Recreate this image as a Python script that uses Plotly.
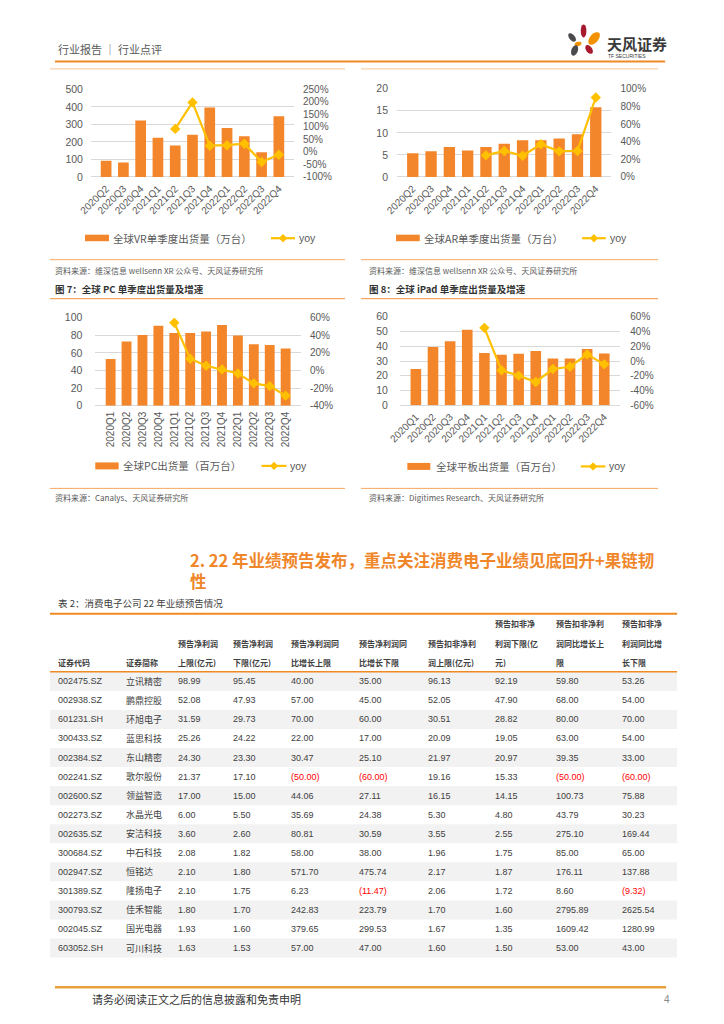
import math
import plotly.graph_objects as go

W, H = 724, 1024
# page coordinates -> paper fractions
def tx_(x): return 58 + (x - 72) / 0.9818
def ty_(y): return 49 + (y - 54) / 0.9895
def px(x): return tx_(x) / W
def py(y): return 1 - ty_(y) / H

# ---------------- data ----------------
quarters_vr = ['2020Q2', '2020Q3', '2020Q4', '2021Q1', '2021Q2', '2021Q3',
               '2021Q4', '2022Q1', '2022Q2', '2022Q3', '2022Q4']
vr_shipments = [93, 82, 323, 224, 179, 241, 397, 279, 232, 141, 346]
vr_yoy = [None, None, None, None, 92, 198, 25, 27, 33, -40, -11]

quarters_ar = quarters_vr
ar_shipments = [5.4, 5.8, 6.8, 6.0, 6.8, 7.55, 8.3, 8.3, 8.7, 9.7, 15.8]
ar_yoy = [None, None, None, None, 24.5, 29.5, 24, 37, 29, 29.5, 90]

quarters_pc = ['2020Q1', '2020Q2', '2020Q3', '2020Q4', '2021Q1', '2021Q2',
               '2021Q3', '2021Q4', '2022Q1', '2022Q2', '2022Q3', '2022Q4']
pc_shipments = [53, 73, 80.3, 90.9, 82.6, 82.6, 84.5, 91.7, 80, 70, 69, 65.2]
pc_yoy = [None, None, None, None, 54.3, 13.4, 5.5, 1.3, -3.3, -14.6, -17.7, -28.6]

quarters_ipad = quarters_pc
ipad_shipments = [24.6, 39.5, 43.5, 51.2, 35.4, 34.3, 35.0, 36.8, 31.8, 31.8, 38.1, 35.2]
ipad_yoy = [None, None, None, None, 45, -12.6, -19.8, -28.4, -10.8, -7.7, 9, -4.5]

table_title = '表 2：消费电子公司 22 年业绩预告情况'
header_lines = [
    ['', '', '证券代码'],
    ['', '', '证券简称'],
    ['', '预告净利润', '上限(亿元)'],
    ['', '预告净利润', '下限(亿元)'],
    ['', '预告净利润同', '比增长上限'],
    ['', '预告净利润同', '比增长下限'],
    ['', '预告扣非净利', '润上限(亿元)'],
    ['预告扣非净', '利润下限(亿', '元)'],
    ['预告扣非净利', '润同比增长上', '限'],
    ['预告扣非净', '利润同比增', '长下限'],
]
codes = ['002475.SZ', '002938.SZ', '601231.SH', '300433.SZ', '002384.SZ', '002241.SZ',
         '002600.SZ', '002273.SZ', '002635.SZ', '300684.SZ', '002947.SZ', '301389.SZ',
         '300793.SZ', '002045.SZ', '603052.SH']
names = ['立讯精密', '鹏鼎控股', '环旭电子', '蓝思科技', '东山精密', '歌尔股份', '领益智造',
         '水晶光电', '安洁科技', '中石科技', '恒铭达', '隆扬电子', '佳禾智能', '国光电器', '可川科技']
np_upper = [98.99, 52.08, 31.59, 25.26, 24.30, 21.37, 17.00, 6.00, 3.60, 2.08, 2.10, 2.10, 1.80, 1.93, 1.63]
np_lower = [95.45, 47.93, 29.73, 24.22, 23.30, 17.10, 15.00, 5.50, 2.60, 1.82, 1.80, 1.75, 1.70, 1.60, 1.53]
np_yoy_upper = [40.00, 57.00, 70.00, 22.00, 30.47, -50.00, 44.06, 35.69, 80.81, 58.00, 571.70, 6.23, 242.83, 379.65, 57.00]
np_yoy_lower = [35.00, 45.00, 60.00, 17.00, 25.10, -60.00, 27.11, 24.38, 30.59, 38.00, 475.74, -11.47, 223.79, 299.53, 47.00]
dnp_upper = [96.13, 52.05, 30.51, 20.09, 21.97, 19.16, 16.15, 5.30, 3.55, 1.96, 2.17, 2.06, 1.70, 1.67, 1.60]
dnp_lower = [92.19, 47.90, 28.82, 19.05, 20.97, 15.33, 14.15, 4.80, 2.55, 1.75, 1.87, 1.72, 1.60, 1.35, 1.50]
dnp_yoy_upper = [59.80, 68.00, 80.00, 63.00, 39.35, -50.00, 100.73, 43.79, 275.10, 85.00, 176.11, 8.60, 2795.89, 1609.42, 53.00]
dnp_yoy_lower = [53.26, 54.00, 70.00, 54.00, 33.00, -60.00, 75.88, 30.23, 169.44, 65.00, 137.88, -9.32, 2625.54, 1280.99, 43.00]

# ---------------- styles ----------------
BAR = '#F3862A'
LINE = '#FFC000'
GRID = '#D9D9D9'
TICK = '#595959'
ORANGE = '#F08A24'
LIGHT = '#F6A862'
FONT = 'Liberation Sans, Noto Sans CJK SC, sans-serif'
CJK = 'Noto Sans CJK SC, Liberation Sans, sans-serif'

fig = go.Figure()
layout = dict(width=W, height=H, margin=dict(l=0, r=0, t=0, b=0),
              paper_bgcolor='white', plot_bgcolor='rgba(0,0,0,0)',
              showlegend=False, bargap=0.38, font=dict(family=FONT, color=TICK))
shapes, annotations = [], []

charts = [
    dict(cats=quarters_vr, bars=vr_shipments, yoy=vr_yoy, name='全球VR单季度出货量（万台）',
         xd=(93, 296), yd=(89, 176.7), lr=(0, 500), ld=100, rr=(-100, 250), rd=50,
         angle=-45, lso=7, rso=8,
         leg=dict(sw=(87, 111), sy=(234.5, 241), tx=113.5, ty=238, ln=(273, 297), lt=298.5)),
    dict(cats=quarters_ar, bars=ar_shipments, yoy=ar_yoy, name='全球AR单季度出货量（万台）',
         xd=(399, 613.4), yd=(88.3, 176.7), lr=(0, 20), ld=5, rr=(0, 100), rd=20,
         angle=-45, lso=8, rso=8,
         leg=dict(sw=(398, 421.7), sy=(234.5, 241), tx=424, ty=238, ln=(584, 607.7), lt=609.5)),
    dict(cats=quarters_pc, bars=pc_shipments, yoy=pc_yoy, name='全球PC出货量（百万台）',
         xd=(97.4, 302.9), yd=(317.7, 405.7), lr=(0, 100), ld=20, rr=(-40, 60), rd=20,
         angle=-90, lso=12, rso=8,
         leg=dict(sw=(97.3, 120.7), sy=(462.5, 469.5), tx=123.5, ty=466, ln=(263.5, 288.5), lt=290)),
    dict(cats=quarters_ipad, bars=ipad_shipments, yoy=ipad_yoy, name='全球平板出货量（百万台）',
         xd=(401.8, 622.2), yd=(316.7, 405.3), lr=(0, 60), ld=10, rr=(-60, 60), rd=20,
         angle=-45, lso=11, rso=9,
         leg=dict(sw=(409.3, 432.3), sy=(463, 470), tx=435.5, ty=466.5, ln=(582.7, 607.3), lt=608.5)),
]

for n, c in enumerate(charts, start=1):
    xa = 'x' if n == 1 else f'x{n}'
    ylk, yrk = 2 * n - 1, 2 * n
    yl = 'y' if ylk == 1 else f'y{ylk}'
    yr = f'y{yrk}'
    fig.add_trace(go.Bar(x=c['cats'], y=c['bars'], marker=dict(color=BAR, line=dict(width=0)),
                         name=c['name'], xaxis=xa, yaxis=yl))
    fig.add_trace(go.Scatter(x=c['cats'], y=c['yoy'], mode='lines+markers', name='yoy',
                             line=dict(color=LINE, width=2.2),
                             marker=dict(symbol='diamond', size=8, color=LINE),
                             connectgaps=False, xaxis=xa, yaxis=yr))
    xkey = 'xaxis' if n == 1 else f'xaxis{n}'
    ylkey = 'yaxis' if ylk == 1 else f'yaxis{ylk}'
    yrkey = f'yaxis{yrk}'
    layout[xkey] = dict(domain=[px(c['xd'][0]), px(c['xd'][1])], anchor=yl, type='category',
                        tickangle=c['angle'], tickfont=dict(size=10, color=TICK, family=FONT),
                        showgrid=False, showline=False, ticks='', ticklabelstandoff=3,
                        fixedrange=True)
    lvals = list(range(c['lr'][0], c['lr'][1] + 1, c['ld']))
    layout[ylkey] = dict(domain=[py(c['yd'][1]), py(c['yd'][0])], anchor=xa,
                         range=list(c['lr']), tickvals=lvals,
                         tickfont=dict(size=10.5, color=TICK, family=FONT),
                         showgrid=True, gridcolor=GRID, gridwidth=1,
                         zeroline=True, zerolinecolor=GRID, zerolinewidth=1,
                         showline=False, ticks='', ticklabelstandoff=c['lso'])
    rvals = list(range(c['rr'][0], c['rr'][1] + 1, c['rd']))
    layout[yrkey] = dict(overlaying=yl, side='right', anchor=xa, range=list(c['rr']),
                         tickvals=rvals, ticktext=[f'{v}%' for v in rvals],
                         tickfont=dict(size=10, color=TICK, family=FONT),
                         showgrid=False, zeroline=False, showline=False, ticks='',
                         ticklabelstandoff=c['rso'])
    # manual legend
    lg = c['leg']
    shapes.append(dict(type='rect', xref='paper', yref='paper',
                       x0=px(lg['sw'][0]), x1=px(lg['sw'][1]), y0=py(lg['sy'][1]), y1=py(lg['sy'][0]),
                       fillcolor=BAR, line=dict(width=0)))
    annotations.append(dict(x=px(lg['tx']), y=py(lg['ty']), xref='paper', yref='paper',
                            text=c['name'], showarrow=False, xanchor='left', yanchor='middle',
                            font=dict(size=10.5, color=TICK, family=CJK)))
    shapes.append(dict(type='line', xref='paper', yref='paper',
                       x0=px(lg['ln'][0]), x1=px(lg['ln'][1]), y0=py(lg['ty']), y1=py(lg['ty']),
                       line=dict(color=LINE, width=2.2)))
    cx = (lg['ln'][0] + lg['ln'][1]) / 2
    d = 4.2
    shapes.append(dict(type='path', xref='paper', yref='paper',
                       path=f"M{px(cx)},{py(lg['ty'] - d)} L{px(cx + d)},{py(lg['ty'])} "
                            f"L{px(cx)},{py(lg['ty'] + d)} L{px(cx - d)},{py(lg['ty'])} Z",
                       fillcolor=LINE, line=dict(width=0)))
    annotations.append(dict(x=px(lg['lt']), y=py(lg['ty']), xref='paper', yref='paper',
                            text='yoy', showarrow=False, xanchor='left', yanchor='middle',
                            font=dict(size=10.5, color=TICK, family=FONT)))

def hline(y, x0, x1, color, width):
    shapes.append(dict(type='line', xref='paper', yref='paper', x0=px(x0), x1=px(x1),
                       y0=py(y), y1=py(y), line=dict(color=color, width=width)))

def text(x, y, s, size, color, family=CJK, anchor='left', bold=False, yanchor='middle'):
    annotations.append(dict(x=px(x), y=py(y), xref='paper', yref='paper',
                            text=(f'<b>{s}</b>' if bold else s), showarrow=False,
                            xanchor=anchor, yanchor=yanchor, align='left',
                            font=dict(size=size, color=color, family=family)))

# ---------------- page header ----------------
text(58, 49, '行业报告 ｜ 行业点评', 11, '#595959')
hline(61, 57, 667, ORANGE, 2)
hline(68.5, 52, 347, '#F8C497', 1)
hline(68.5, 363, 660, '#F8C497', 1)

# logo petals
def petal(cx, cy, a, b, ang, color):
    pts = []
    for k in range(24):
        t = 2 * math.pi * k / 24
        ex, ey = a * math.cos(t), b * math.sin(t)
        r = math.radians(ang)
        X = cx + ex * math.cos(r) - ey * math.sin(r)
        Y = cy + ex * math.sin(r) + ey * math.cos(r)
        pts.append(f'{px(X):.5f},{py(Y):.5f}')
    shapes.append(dict(type='path', xref='paper', yref='paper',
                       path='M' + ' L'.join(pts) + ' Z', fillcolor=color, line=dict(width=0)))

petal(585.5, 30.5, 2.8, 6.5, 0, '#A8192E')
petal(574, 37, 2.8, 5, -40, '#4A4A4C')
petal(596, 38, 4.2, 7.5, 40, '#F39200')
petal(580, 43.5, 3.5, 2.2, -15, '#F39200')
petal(576.5, 50, 3.2, 5.5, 20, '#4A4A4C')
petal(591, 49, 3, 5, -35, '#A8192E')
text(607, 43.5, '天风证券', 15, '#3A3A3A', bold=True)
text(608, 55.5, 'TF SECURITIES', 5, '#3A3A3A', family=FONT)

# ---------------- figure captions / sources ----------------
for x0, x1, tx, title, src in [
    (52, 347, 55, '图 7：全球 PC 单季度出货量及增速', '资料来源：Canalys、天风证券研究所'),
    (363, 660, 369, '图 8：全球 iPad 单季度出货量及增速', '资料来源：Digitimes Research、天风证券研究所'),
]:
    hline(259.5, x0, x1, LIGHT, 1)
    text(tx, 270, '资料来源：维深信息 wellsenn XR 公众号、天风证券研究所', 8, '#595959')
    text(tx, 288.5, title, 9.5, '#333333', bold=True)
    hline(298.5, x0, x1, LIGHT, 1.2)
    hline(488.5, x0, x1, LIGHT, 1)
    text(tx, 498, src, 8, '#595959')

# ---------------- section heading ----------------
HEAD = '#F0862A'
text(190, 546, '2. 22 年业绩预告发布，重点关注消费电子业绩见底回升+果链韧<br>性', 16.5, HEAD,
     bold=True, yanchor='top')

# ---------------- table ----------------
text(58, 603, table_title, 9.5, '#404040')
TX0, TX1 = 52, 679
hline(614, TX0, TX1, ORANGE, 2)
col_x = [58, 126, 178, 233, 291, 359, 428, 495, 556, 622]
head_y = [624, 644, 662.5]
for cx, lines in zip(col_x, header_lines):
    for hy, s in zip(head_y, lines):
        if s:
            text(cx, hy, s, 8, '#404040', bold=True)
hline(672, TX0, TX1, ORANGE, 1.5)

row0, rh = 681.7, 19.07
def fmt(v):
    return f'({abs(v):.2f})' if v < 0 else f'{v:.2f}'
columns = [codes, names, np_upper, np_lower, np_yoy_upper, np_yoy_lower,
           dnp_upper, dnp_lower, dnp_yoy_upper, dnp_yoy_lower]
for i in range(len(codes)):
    yc = row0 + i * rh
    if i % 2 == 0:
        shapes.append(dict(type='rect', xref='paper', yref='paper', layer='below',
                           x0=px(TX0), x1=px(TX1), y0=py(yc + rh / 2), y1=py(yc - rh / 2),
                           fillcolor='#F2F2F2', line=dict(width=0)))
    for j, (cx, col) in enumerate(zip(col_x, columns)):
        v = col[i]
        if isinstance(v, str):
            text(cx, yc, v, 9, '#404040', family=(CJK if j == 1 else FONT))
        else:
            text(cx, yc, fmt(v), 9, '#FF0000' if v < 0 else '#404040', family=FONT)

# ---------------- footer ----------------
hline(988, 57, 668, '#E9A23B', 2.5)
text(92, 1000, '请务必阅读正文之后的信息披露和免责申明', 11, '#333333')
text(674, 1000, '4', 10, '#888888', family=FONT, anchor='right')

layout['shapes'] = shapes
layout['annotations'] = annotations
fig.update_layout(**layout)
fig.write_html('out.html', config={'displayModeBar': False, 'staticPlot': True},
               post_script="document.body.style.margin='0';document.body.style.overflow='hidden';")
